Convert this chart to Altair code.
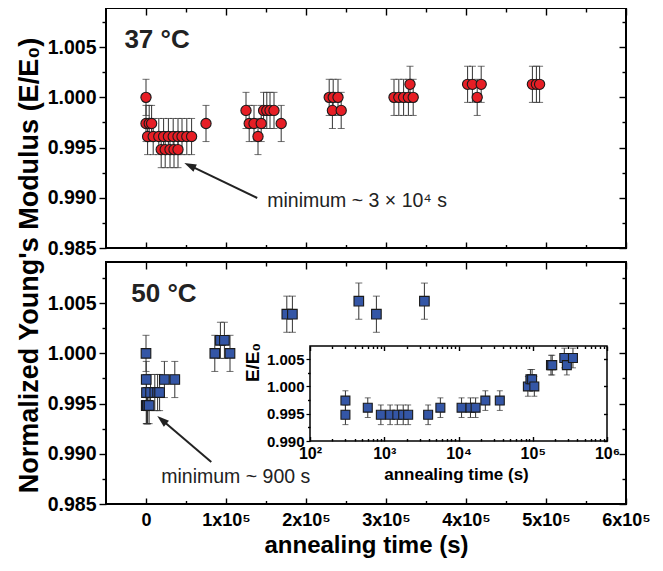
import altair as alt
import pandas as pd

FONT = "Liberation Sans"

# ---------------- data ----------------
# 37 °C : annealing time (s) and E/E0
T37 = [0, 0, 4000, 7000,
       2000, 9000, 16000, 22000, 28000, 34000, 40000, 45000, 51000, 57000,
       19000, 24000, 30000, 35000, 40000, 75000,
       125000, 129000, 135000, 140000, 144000, 147000, 151000, 155000, 160000, 169000,
       229000, 234000, 240000, 233000, 244000,
       310000, 316000, 322000, 328000, 334000, 330000,
       402000, 408000, 419000, 414000,
       483000, 488000, 492000]
E37 = [1.0000, 0.9974, 0.9974, 0.9974,
       0.9961, 0.9961, 0.9961, 0.9961, 0.9961, 0.9961, 0.9961, 0.9961, 0.9961, 0.9961,
       0.9948, 0.9948, 0.9948, 0.9948, 0.9948, 0.9974,
       0.9987, 0.9974, 0.9974, 0.9961, 0.9974, 0.9987, 0.9987, 0.9987, 0.9987, 0.9974,
       1.0000, 1.0000, 1.0000, 0.9987, 0.9987,
       1.0000, 1.0000, 1.0000, 1.0000, 1.0000, 1.0013,
       1.0013, 1.0013, 1.0013, 1.0000,
       1.0013, 1.0013, 1.0013]

# 50 °C : annealing time (s) and E/E0
T50 = [0, 300, 300, 600, 900, 1200, 1500, 1800, 2100, 3900, 5700, 11000, 14500, 17000,
       23000, 36000, 86000, 93000, 98000, 105000, 176000, 183000, 266000, 288000, 348000]
E50 = [1.0000, 0.9974, 0.9948, 0.9961, 0.9948, 0.9948, 0.9948, 0.9948, 0.9948, 0.9948,
       0.9961, 0.9961, 0.9961, 0.9961, 0.9974, 0.9974, 1.0000, 1.0013, 1.0013, 1.0000,
       1.0039, 1.0039, 1.0052, 1.0039, 1.0052]
ERR = 0.0018

# axes
X_DOMAIN = [-50000, 600000]
X_MAJOR = [0, 100000, 200000, 300000, 400000, 500000, 600000]
X_MINOR = [50000, 150000, 250000, 350000, 450000, 550000]
X_LABELS = ["0", "1x10⁵", "2x10⁵", "3x10⁵", "4x10⁵", "5x10⁵", "6x10⁵"]
Y_TOP_DOMAIN = [0.985, 1.0089]
Y_BOT_DOMAIN = [0.985, 1.0091]
Y_MAJOR = [0.985, 0.990, 0.995, 1.000, 1.005]
Y_MINOR = [0.9875, 0.9925, 0.9975, 1.0025, 1.0075]

IN_X_DOMAIN = [100, 1000000]
IN_X_MAJOR = [100, 1000, 10000, 100000, 1000000]
IN_X_MINOR = [m * 10 ** k for k in range(2, 6) for m in range(2, 10)]
IN_X_LABELS = ["10²", "10³", "10⁴", "10⁵", "10⁶"]
IN_Y_DOMAIN = [0.990, 1.0074]
IN_Y_MAJOR = [0.990, 0.995, 1.000, 1.005]
IN_Y_MINOR = [0.9925, 0.9975, 1.0025]

# annotations
PANEL_LABELS = ["37 °C", "50 °C"]
PANEL_LABEL_T = [-27000, -18400]
PANEL_LABEL_E = [1.0049, 1.0051]
NOTES = ["minimum ~ 3 × 10⁴ s", "minimum ~ 900 s"]
NOTE_T = [151600, 19100]
NOTE_E = [0.98908, 0.98709]
ARROW_TAIL_T = [139000, 81600]
ARROW_TAIL_E = [0.98998, 0.98918]
ARROW_TIP_T = [47900, 14100]
ARROW_TIP_E = [0.99347, 0.99377]

# ---------------- styling / layout ----------------
RED = "#e61e25"
BLUE = "#3456a6"
EDGE = "#1a1a1a"
BAR = "#333333"
TXT = "#222222"
W = 520
H = 496
TOP_RANGE = [240, 0]
BOT_RANGE = [496, 254]
IN_X_RANGE = [204, 501]
IN_Y_RANGE = [433, 338]


def lin(domain, rng):
    return alt.Scale(type="linear", domain=domain, range=rng, nice=False, zero=False)


def logs(domain, rng):
    return alt.Scale(type="log", domain=domain, range=rng, nice=False)


SX = lin(X_DOMAIN, [0, W])
SY_T = lin(Y_TOP_DOMAIN, TOP_RANGE)
SY_B = lin(Y_BOT_DOMAIN, BOT_RANGE)
SX_I = logs(IN_X_DOMAIN, IN_X_RANGE)
SY_I = lin(IN_Y_DOMAIN, IN_Y_RANGE)


def with_err(t, e):
    return pd.DataFrame({"t": t, "e": e,
                         "lo": [v - ERR for v in e], "hi": [v + ERR for v in e]})


d37 = with_err(T37, E37)
d50 = with_err(T50, E50)
din = d50[d50["t"] > 0].reset_index(drop=True)


def series(df, sx, sy, shape, fill, size, cap, xaxis=None, yaxis=None):
    base = alt.Chart(df)
    X = alt.X("t:Q", scale=sx, axis=None)
    bars = base.mark_rule(color=BAR, strokeWidth=1).encode(
        x=X, y=alt.Y("lo:Q", scale=sy, axis=None), y2="hi:Q")
    lo = base.mark_tick(orient="horizontal", size=cap, thickness=1, color=BAR).encode(
        x=X, y=alt.Y("lo:Q", scale=sy, axis=None))
    hi = base.mark_tick(orient="horizontal", size=cap, thickness=1, color=BAR).encode(
        x=X, y=alt.Y("hi:Q", scale=sy, axis=None))
    pts = base.mark_point(shape=shape, filled=True, fill=fill, stroke=EDGE, strokeWidth=1.1,
                          size=size, opacity=1).encode(
        x=alt.X("t:Q", scale=sx, axis=xaxis), y=alt.Y("e:Q", scale=sy, axis=yaxis))
    return [bars, lo, hi, pts]


def tick_axis(orient, values, size, offset=0):
    return alt.Axis(orient=orient, values=values, tickSize=size, offset=offset, labels=False,
                    domain=False, grid=False, title=None, ticks=True, tickColor="black",
                    tickWidth=1.4, zindex=1)


def axis_layer(sx, sy, xd, yd, xaxis=None, yaxis=None):
    df = pd.DataFrame({"a": [xd], "b": [yd]})
    return alt.Chart(df).mark_point(opacity=0, size=1).encode(
        x=alt.X("a:Q", scale=sx, axis=xaxis), y=alt.Y("b:Q", scale=sy, axis=yaxis))


def frame(sx, sy, xdom, ydom, fill=None, width=2):
    df = pd.DataFrame({"x": [xdom[0]], "x2": [xdom[1]], "y": [ydom[0]], "y2": [ydom[1]]})
    kw = dict(stroke="black", strokeWidth=width)
    if fill:
        kw["fill"] = fill
    else:
        kw["fillOpacity"] = 0
    return alt.Chart(df).mark_rect(**kw).encode(
        x=alt.X("x:Q", scale=sx, axis=None), x2="x2:Q",
        y=alt.Y("y:Q", scale=sy, axis=None), y2="y2:Q")


def panel_ticks(sy, ydom, top_px, bot_px):
    ym = ydom[0]
    return [
        axis_layer(SX, sy, 0, ym, tick_axis("top", X_MAJOR, 6, -bot_px), tick_axis("left", Y_MINOR, 4)),
        axis_layer(SX, sy, 0, ym, tick_axis("top", X_MINOR, 3.5, -bot_px), tick_axis("left", Y_MAJOR, 7, -W)),
        axis_layer(SX, sy, 0, ym, tick_axis("bottom", X_MAJOR, 7, -(H - top_px)), tick_axis("left", Y_MINOR, 4, -W)),
        axis_layer(SX, sy, 0, ym, tick_axis("bottom", X_MINOR, 4, -(H - top_px)), None),
    ]


def annot(i, sy):
    lab = pd.DataFrame({"t": [PANEL_LABEL_T[i]], "e": [PANEL_LABEL_E[i]], "s": [PANEL_LABELS[i]]})
    note = pd.DataFrame({"t": [NOTE_T[i]], "e": [NOTE_E[i]], "s": [NOTES[i]]})
    k = 0.12
    end_t = ARROW_TIP_T[i] + k * (ARROW_TAIL_T[i] - ARROW_TIP_T[i])
    end_e = ARROW_TIP_E[i] + k * (ARROW_TAIL_E[i] - ARROW_TIP_E[i])
    arr = pd.DataFrame({"t": [ARROW_TAIL_T[i]], "e": [ARROW_TAIL_E[i]], "t2": [end_t], "e2": [end_e]})
    tip = pd.DataFrame({"t": [ARROW_TIP_T[i]], "e": [ARROW_TIP_E[i]]})
    angle = [295.6, 310.4][i]
    X = alt.X("t:Q", scale=SX, axis=None)
    Y = alt.Y("e:Q", scale=sy, axis=None)
    return [
        alt.Chart(lab).mark_text(font=FONT, fontSize=26, fontWeight="bold", align="left",
                                 baseline="alphabetic", color=TXT).encode(x=X, y=Y, text="s:N"),
        alt.Chart(note).mark_text(font=FONT, fontSize=19.5, align="left",
                                  baseline="alphabetic", color=TXT).encode(x=X, y=Y, text="s:N"),
        alt.Chart(arr).mark_rule(color=TXT, strokeWidth=2).encode(x=X, y=Y, x2="t2:Q", y2="e2:Q"),
        alt.Chart(tip).mark_point(shape="M0,0L0.33,1L-0.33,1Z", size=576, filled=True, fill=TXT,
                                  strokeWidth=0, opacity=1, angle=angle).encode(x=X, y=Y),
    ]


x_label_expr = "[" + ",".join("'%s'" % s for s in X_LABELS) + "][round(datum.value / 100000)]"
in_label_expr = "[" + ",".join("'%s'" % s for s in IN_X_LABELS) + "][round(log(datum.value) / LN10) - 2]"

ylab_top = alt.Axis(orient="left", values=Y_MAJOR, format=".3f", tickSize=7, tickWidth=1.4,
                    tickColor="black", labelFontSize=19.5, labelFontWeight="bold", labelPadding=3,
                    labelFlush=False, labelOverlap=False, domain=False, grid=False, zindex=1, title=None)
ylab_bot = alt.Axis(orient="left", values=Y_MAJOR, format=".3f", tickSize=7, tickWidth=1.4,
                    tickColor="black", labelFontSize=19.5, labelFontWeight="bold", labelPadding=3,
                    labelFlush=False, labelOverlap=False, domain=False, grid=False, zindex=1,
                    title="Normalized Young's Modulus (E/E₀)", titleFontSize=27,
                    titleFontWeight="bold", titleAngle=270, titleAlign="center",
                    titleBaseline="alphabetic", titleX=-69, titleY=257)
xlab_bot = alt.Axis(orient="bottom", values=X_MAJOR, labelExpr=x_label_expr, tickSize=0,
                    labelFontSize=18, labelFontWeight="bold", labelPadding=7, labelFlush=False,
                    labelOverlap=False, domain=False, grid=False, zindex=1,
                    title="annealing time (s)", titleFontSize=24, titleFontWeight="bold",
                    titleBaseline="alphabetic", titleX=260, titleY=48)
in_xlab = alt.Axis(orient="bottom", offset=-(H - IN_Y_RANGE[0]), values=IN_X_MAJOR,
                   labelExpr=in_label_expr, tickSize=0, labelFontSize=16, labelFontWeight="bold",
                   labelPadding=4, labelFlush=False, labelOverlap=False, domain=False, grid=False,
                   zindex=1, title="annealing time (s)", titleFontSize=17, titleFontWeight="bold",
                   titleBaseline="alphabetic", titleX=350, titleY=38)
in_ylab = alt.Axis(orient="left", offset=-IN_X_RANGE[0], values=IN_Y_MAJOR, format=".3f",
                   tickSize=4, tickWidth=1.2, tickColor="black", labelFontSize=15,
                   labelFontWeight="bold", labelPadding=2, labelFlush=False, labelOverlap=False,
                   domain=False, grid=False, zindex=1, title="E/E₀", titleFontSize=19,
                   titleFontWeight="bold", titleAngle=270, titleAlign="center",
                   titleBaseline="alphabetic", titleX=-52, titleY=354)

layers = []
# top panel (37 °C)
layers += series(d37, SX, SY_T, "circle", RED, 105, 7, None, ylab_top)
layers += annot(0, SY_T)
layers.append(frame(SX, SY_T, X_DOMAIN, Y_TOP_DOMAIN))
layers += panel_ticks(SY_T, Y_TOP_DOMAIN, 0, 240)
# bottom panel (50 °C)
layers += series(d50, SX, SY_B, "square", BLUE, 92, 7, xlab_bot, ylab_bot)
layers += annot(1, SY_B)
layers.append(frame(SX, SY_B, X_DOMAIN, Y_BOT_DOMAIN))
layers += panel_ticks(SY_B, Y_BOT_DOMAIN, 254, 496)
# inset (log time axis)
layers.append(frame(SX_I, SY_I, IN_X_DOMAIN, IN_Y_DOMAIN, fill="white", width=1.5))
layers += series(din, SX_I, SY_I, "square", BLUE, 80, 6, in_xlab, in_ylab)
layers += [
    axis_layer(SX_I, SY_I, 1000, 1.0, tick_axis("top", IN_X_MAJOR, 4.5, -IN_Y_RANGE[0]),
               tick_axis("left", IN_Y_MINOR, 2.5, -IN_X_RANGE[0])),
    axis_layer(SX_I, SY_I, 1000, 1.0, tick_axis("top", IN_X_MINOR, 2.5, -IN_Y_RANGE[0]),
               tick_axis("left", IN_Y_MAJOR, 3.5, -IN_X_RANGE[1])),
    axis_layer(SX_I, SY_I, 1000, 1.0, tick_axis("bottom", IN_X_MAJOR, 4.5, -(H - IN_Y_RANGE[1])), None),
    axis_layer(SX_I, SY_I, 1000, 1.0, tick_axis("bottom", IN_X_MINOR, 2.5, -(H - IN_Y_RANGE[1])), None),
]

chart = alt.layer(*layers).resolve_scale(x="independent", y="independent").properties(
    width=W, height=H,
    autosize=alt.AutoSizeParams(type="none"),
    padding={"left": 98, "top": 0, "right": 26, "bottom": 56},
).configure_view(strokeWidth=0).configure_axis(
    labelFont=FONT, titleFont=FONT, labelColor="black", titleColor="black")

chart.save("out.html", embed_options={"renderer": "svg", "actions": False})
